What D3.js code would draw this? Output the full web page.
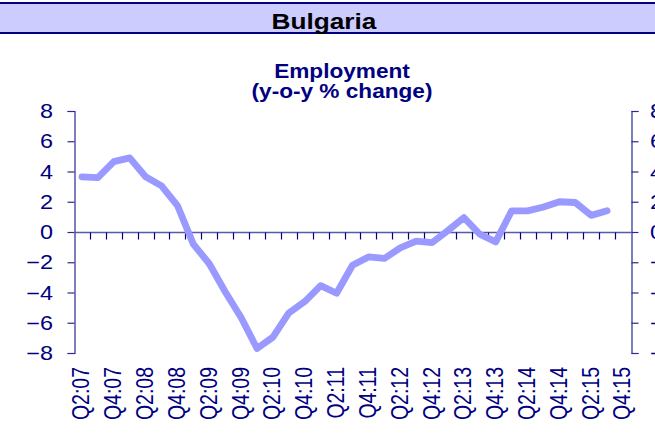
<!DOCTYPE html>
<html>
<head>
<meta charset="utf-8">
<script src="https://cdn.jsdelivr.net/npm/d3@7"></script>
<style>
  html, body { margin: 0; padding: 0; background: #fff; }
  svg { display: block; font-family: "Liberation Sans", Arial, sans-serif; }
</style>
</head>
<body>
<svg id="chart" width="655" height="436"></svg>
<script>
const chartTitle = "Bulgaria";
const subtitleLines = ["Employment", "(y-o-y % change)"];

const categories = [
  "Q2:07","Q3:07","Q4:07","Q1:08","Q2:08","Q3:08","Q4:08",
  "Q1:09","Q2:09","Q3:09","Q4:09","Q1:10","Q2:10","Q3:10","Q4:10",
  "Q1:11","Q2:11","Q3:11","Q4:11","Q1:12","Q2:12","Q3:12","Q4:12",
  "Q1:13","Q2:13","Q3:13","Q4:13","Q1:14","Q2:14","Q3:14","Q4:14",
  "Q1:15","Q2:15","Q3:15","Q4:15"
];

const employment = [
  3.65, 3.6, 4.65, 4.9, 3.65, 3.05, 1.75,
  -0.8, -2.1, -3.95, -5.65, -7.7, -6.95, -5.35, -4.6,
  -3.55, -4.05, -2.2, -1.65, -1.75, -1.05, -0.6, -0.7,
  0.1, 0.95, -0.15, -0.65, 1.4, 1.4, 1.65, 2.0,
  1.95, 1.1, 1.4
];

const tickLabels = categories.filter((c, i) => i % 2 === 0);
const yTicks = [-8, -6, -4, -2, 0, 2, 4, 6, 8];

const svg = d3.select("#chart");
const navy = "#000080";

// Title banner
svg.append("rect").attr("x", 0).attr("y", 3).attr("width", 655).attr("height", 30)
  .attr("fill", "#CCCCFF");
svg.append("line").attr("x1", 0).attr("x2", 655).attr("y1", 3).attr("y2", 3)
  .attr("stroke", navy).attr("stroke-width", 2);
svg.append("line").attr("x1", 0).attr("x2", 655).attr("y1", 33).attr("y2", 33)
  .attr("stroke", navy).attr("stroke-width", 2);
svg.append("text")
  .attr("transform", "translate(324,28.5) scale(1.22,1)")
  .attr("text-anchor", "middle")
  .attr("font-size", 21.5).attr("font-weight", "bold").attr("fill", "#000")
  .text(chartTitle);

// Subtitle
subtitleLines.forEach((t, i) => {
  svg.append("text")
    .attr("transform", `translate(342,${77.5 + i * 20.5}) scale(1.16,1)`)
    .attr("text-anchor", "middle")
    .attr("font-size", 19.5).attr("font-weight", "bold").attr("fill", navy)
    .text(t);
});

// Plot area
const plotLeft = 74, plotRight = 631, plotTop = 111, plotBottom = 353;
const x = d3.scaleBand().domain(categories).range([plotLeft, plotRight]).padding(0);
const y = d3.scaleLinear().domain([-8, 8]).range([plotBottom, plotTop]);

// Left y axis
const gL = svg.append("g").attr("transform", `translate(${plotLeft + 0.5},0)`);
gL.call(d3.axisLeft(y).tickValues(yTicks).tickSize(7).tickSizeOuter(7).tickFormat(""));
gL.selectAll("path, line").attr("stroke", "#2a2a90").attr("stroke-width", 1.2);
yTicks.forEach(v => {
  svg.append("text")
    .attr("transform", `translate(53,${y(v)}) scale(1.2,1)`)
    .attr("text-anchor", "end").attr("dy", "0.36em")
    .attr("font-size", 19.5).attr("fill", navy)
    .text(d3.format("d")(v));
});

// Right y axis (labels partly beyond the right edge, as in the original)
const gR = svg.append("g").attr("transform", `translate(${plotRight + 0.5},0)`);
gR.call(d3.axisRight(y).tickValues(yTicks).tickSize(7).tickSizeOuter(7).tickFormat(""));
gR.selectAll("path, line").attr("stroke", "#2a2a90").attr("stroke-width", 1.2);
yTicks.forEach(v => {
  svg.append("text")
    .attr("transform", `translate(650,${y(v)}) scale(1.2,1)`)
    .attr("text-anchor", "start").attr("dy", "0.36em")
    .attr("font-size", 19.5).attr("fill", navy)
    .text(d3.format("d")(v));
});

// X axis at zero with ticks at category boundaries
const y0 = Math.round(y(0)) + 0.5;
svg.append("line").attr("x1", plotLeft).attr("x2", plotRight).attr("y1", y0).attr("y2", y0)
  .attr("stroke", "#5a5aa8").attr("stroke-width", 1.6);
svg.append("g").selectAll("line").data(categories.slice(1)).join("line")
  .attr("x1", d => Math.round(x(d)) + 0.5).attr("x2", d => Math.round(x(d)) + 0.5)
  .attr("y1", y0).attr("y2", y0 + 7)
  .attr("stroke", navy).attr("stroke-width", 1.2);

// X labels (every other category)
svg.append("g").selectAll("text").data(tickLabels).join("text")
  .attr("transform", d => `translate(${x(d) + x.bandwidth() / 2 - 1},367) scale(1.2,1) rotate(-90)`)
  .attr("text-anchor", "end").attr("dy", "0.36em")
  .attr("font-size", 19.5).attr("fill", navy)
  .text(d => d);

// Line
const line = d3.line()
  .x((d, i) => x(categories[i]) + x.bandwidth() / 2)
  .y(d => y(d));
svg.append("path").datum(employment)
  .attr("d", line)
  .attr("fill", "none").attr("stroke", "#9999FF")
  .attr("stroke-width", 6.8).attr("stroke-linejoin", "round").attr("stroke-linecap", "round");
</script>
</body>
</html>
